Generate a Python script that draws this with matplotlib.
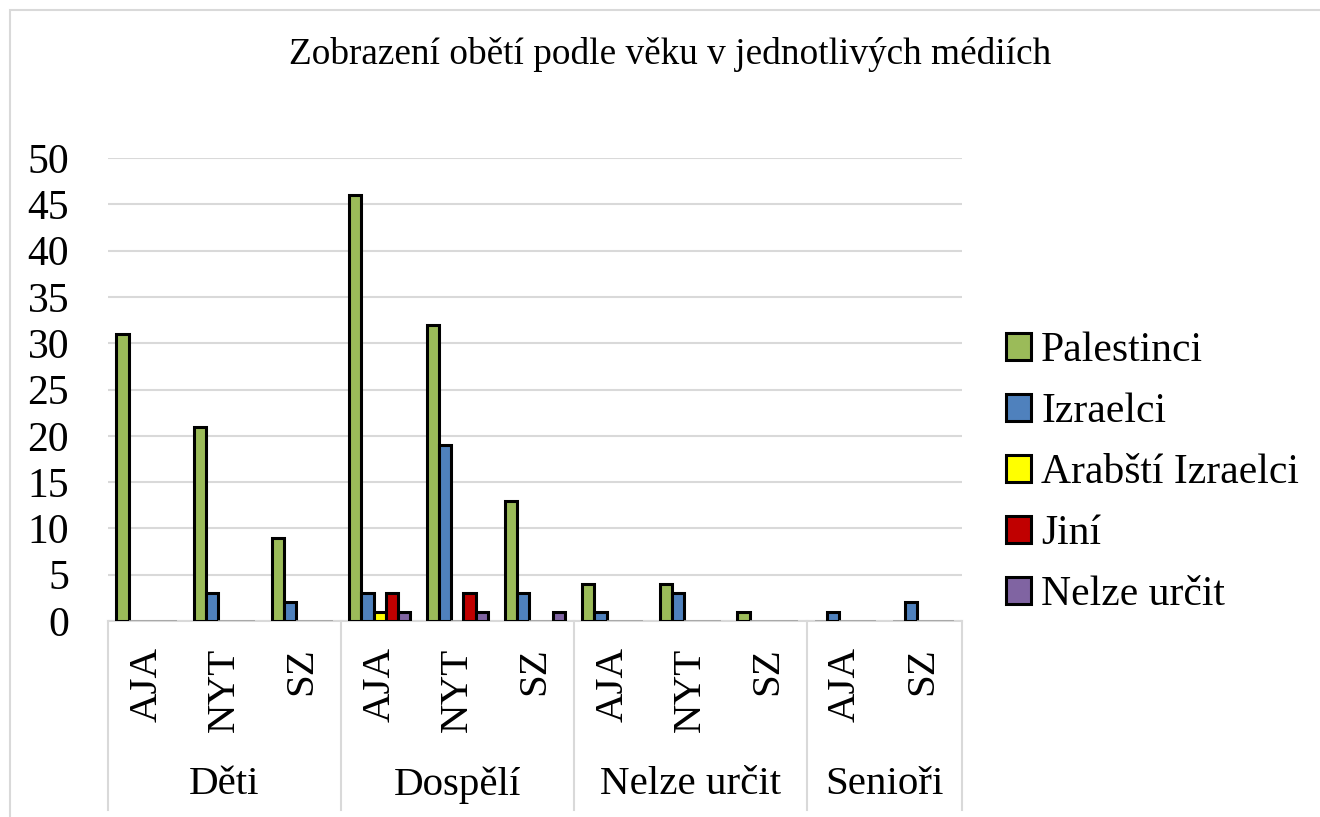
import matplotlib
matplotlib.use("Agg")
import matplotlib.pyplot as plt
import matplotlib.transforms as mtransforms
from matplotlib.patches import Rectangle, Patch
import numpy as np

plt.rcParams['font.family'] = ['Liberation Serif', 'DejaVu Serif']

title = "Zobrazení obětí podle věku v jednotlivých médiích"
media = ["AJA", "NYT", "SZ", "AJA", "NYT", "SZ", "AJA", "NYT", "SZ", "AJA", "SZ"]
groups = ["Děti", "Dospělí", "Nelze určit", "Senioři"]
group_sizes = [3, 3, 3, 2]

series_names = ["Palestinci", "Izraelci", "Arabští Izraelci", "Jiní", "Nelze určit"]
palestinci = [31, 21, 9, 46, 32, 13, 4, 4, 1, 0, 0]
izraelci   = [0, 3, 2, 3, 19, 3, 1, 3, 0, 1, 2]
arabsti    = [0, 0, 0, 1, 0, 0, 0, 0, 0, 0, 0]
jini       = [0, 0, 0, 3, 3, 0, 0, 0, 0, 0, 0]
nelze      = [0, 0, 0, 1, 1, 1, 0, 0, 0, 0, 0]
series = [palestinci, izraelci, arabsti, jini, nelze]
colors = ["#9BBB59", "#4F81BD", "#FFFF00", "#C00000", "#8064A2"]

W, H = 1320, 817
fig = plt.figure(figsize=(W / 100, H / 100), dpi=100)

# outer chart border
fig.patches.append(Rectangle((10 / W, -0.2), 1.2, 1.2 - 10 / H, transform=fig.transFigure,
                             fill=False, edgecolor="#D9D9D9", linewidth=1.5))

ax_l, ax_r, ax_b, ax_t = 108, 962, 621, 158
ax = fig.add_axes([ax_l / W, 1 - ax_b / H, (ax_r - ax_l) / W, (ax_b - ax_t) / H])

x = np.arange(len(media))
bw = 0.157
for i, (vals, col, name) in enumerate(zip(series, colors, series_names)):
    offs = (i - 2) * bw
    for xi, v in zip(x, vals):
        if v > 0:
            ax.bar(xi + offs, v, width=bw, color=col, edgecolor="black",
                   linewidth=2.2, zorder=3)
        else:
            ax.bar(xi + offs, v, width=bw, color=col, edgecolor="#A0A0A0",
                   linewidth=1.2, zorder=3)

ax.set_xlim(-0.5, len(media) - 0.5)
ax.set_ylim(0, 50)
ax.set_yticks(range(0, 51, 5))
ax.yaxis.grid(True, color="#D9D9D9", linewidth=1.5, zorder=0)
ax.set_axisbelow(True)
for s in ["top", "right", "left"]:
    ax.spines[s].set_visible(False)
ax.spines["bottom"].set_color("#D9D9D9")
ax.spines["bottom"].set_linewidth(1.5)
ax.tick_params(axis="y", length=0, pad=28, labelsize=30)
ax.set_xticks(x)
ax.set_xticklabels(media, rotation=90, fontsize=29.5, va="top", ha="center")
ax.tick_params(axis="x", length=0, pad=19)

trans = mtransforms.blended_transform_factory(ax.transData, ax.transAxes)
bounds = [-0.5]
for gs in group_sizes:
    bounds.append(bounds[-1] + gs)
for b in bounds:
    ax.plot([b, b], [0, -0.408], transform=trans, color="#D9D9D9",
            linewidth=1.5, clip_on=False)
for g, lo, hi in zip(groups, bounds[:-1], bounds[1:]):
    ax.text((lo + hi) / 2, -0.354, g, transform=trans, ha="center", va="center",
            fontsize=29.5)

fig.text(670 / W, 1 - 55 / H, title, ha="center", va="center", fontsize=26.8)

handles = [Patch(facecolor=c, edgecolor="black", linewidth=2.2) for c in colors]
fig.legend(handles, series_names, loc="center left",
           bbox_to_anchor=(989 / W, 1 - 473 / H), frameon=False, fontsize=30,
           handlelength=0.6, handleheight=0.6, handletextpad=0.25,
           labelspacing=0.54, borderaxespad=0)

fig.savefig("out.png", dpi=100)
